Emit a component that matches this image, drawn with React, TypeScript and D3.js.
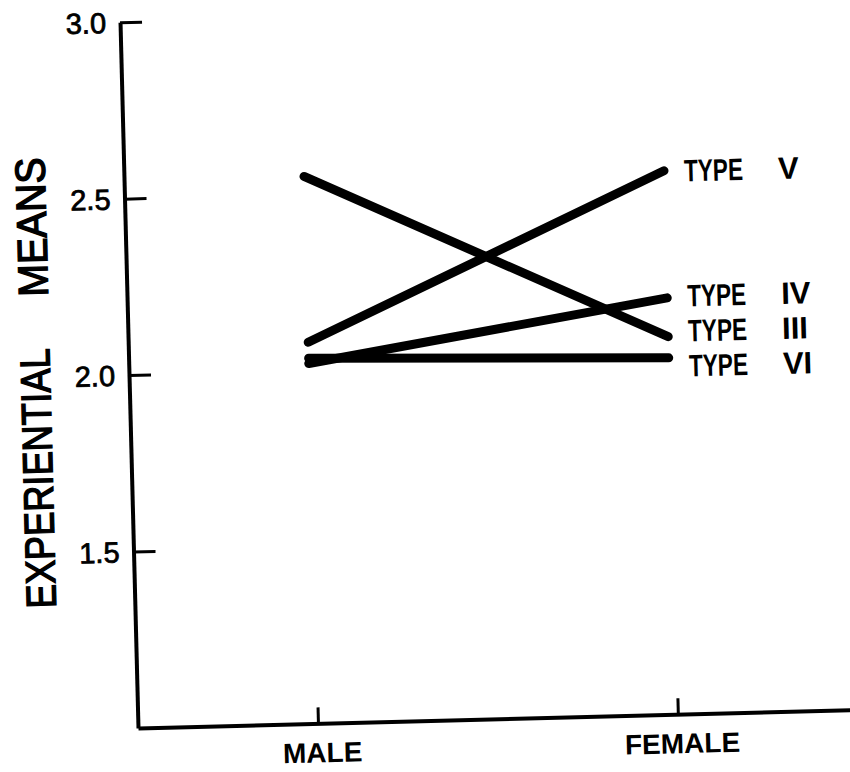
import * as d3 from "d3";
import { useEffect, useRef } from "react";

// groups on the x axis
const groups = ["MALE", "FEMALE"];
// series (type numerals) and their means per group
const typeNames = ["V", "IV", "III", "VI"];
const maleMeans = [2.08, 2.02, 2.55, 2.035];
const femaleMeans = [2.54, 2.18, 2.07, 2.01];
// y axis ticks
const yTicks = [1.5, 2.0, 2.5, 3.0];
const yTitleWords = ["EXPERIENTIAL", "MEANS"];

const W = 850;
const H = 772;
const FONT = "'Liberation Sans', Arial, sans-serif";

// push labels apart so they don't overlap, keeping clusters centred on their targets
function dodge(targets: number[], gap: number) {
  const order = targets.map((t, i) => i).sort((a, b) => targets[a] - targets[b]);
  let clusters: { idx: number[]; top: number }[] = [];
  order.forEach(i => {
    clusters.push({ idx: [i], top: targets[i] });
    // merge while overlapping
    while (clusters.length > 1) {
      const b = clusters[clusters.length - 1];
      const a = clusters[clusters.length - 2];
      if (a.top + a.idx.length * gap <= b.top) break;
      const idx = a.idx.concat(b.idx);
      const mean = d3.mean(idx, j => targets[j])!;
      clusters.splice(clusters.length - 2, 2, { idx, top: mean - ((idx.length - 1) * gap) / 2 });
    }
  });
  const out = new Array(targets.length);
  clusters.forEach(c => c.idx.forEach((j, k) => (out[j] = c.top + k * gap)));
  return out as number[];
}

export default function App() {
  const ref = useRef<SVGSVGElement>(null);

  useEffect(() => {
    document.body.style.margin = "0";
    const svg = d3.select(ref.current);
    svg.selectAll("*").remove();

    // the scanned figure is tilted a little; draw in a frame anchored at the axes corner
    const g = svg.append("g").attr("transform", "translate(138,728) rotate(-1.46)");

    const x = d3.scalePoint<string>().domain(groups).range([0, 720]).padding(0.5);
    const y = d3.scaleLinear().domain([1, 3]).range([0, -706]);

    // y axis (ticks point inward)
    const yAxis = g.append("g").call(
      d3.axisRight(y).tickValues(yTicks).tickSize(22).tickSizeOuter(0).tickFormat(() => "")
    );
    yAxis.select(".domain").attr("stroke", "#000").attr("stroke-width", 4);
    yAxis.selectAll(".tick line").attr("stroke", "#000").attr("stroke-width", 3);

    g.append("g")
      .selectAll("text")
      .data(yTicks)
      .enter()
      .append("text")
      .attr("x", -14)
      .attr("y", d => y(d))
      .attr("dy", "0.36em")
      .attr("text-anchor", "end")
      .style("font-family", FONT)
      .style("font-size", "29px")
      .style("stroke", "#000")
      .style("stroke-width", 0.8)
      .text(d => d3.format(".1f")(d));

    // x axis (ticks point up)
    const xAxis = g.append("g").call(
      d3.axisTop(x).tickSize(16).tickSizeOuter(0).tickFormat(() => "")
    );
    xAxis.select(".domain").attr("stroke", "#000").attr("stroke-width", 4);
    xAxis.selectAll(".tick line").attr("stroke", "#000").attr("stroke-width", 3);

    g.append("g")
      .selectAll("text")
      .data(groups)
      .enter()
      .append("text")
      .attr("x", d => x(d)! + 4)
      .attr("y", 39)
      .attr("text-anchor", "middle")
      .style("font-family", FONT)
      .style("font-size", "28px")
      .style("font-weight", "bold")
      .text(d => d);

    // y axis title, two words spaced apart
    const titleStart = [-122, -434];
    const titleLen = [260, 139];
    yTitleWords.forEach((w, i) => {
      g.append("text")
        .attr("transform", `translate(-79,${titleStart[i]}) rotate(-90)`)
        .attr("textLength", titleLen[i])
        .attr("lengthAdjust", "spacingAndGlyphs")
        .style("font-family", FONT)
        .style("font-size", "42px")
        .style("stroke", "#000")
        .style("stroke-width", 1.4)
        .text(w);
    });

    // series lines
    const series = typeNames.map((name, i) => ({
      name,
      values: [maleMeans[i], femaleMeans[i]],
    }));

    const line = d3
      .line<number>()
      .x((d, i) => x(groups[i])!)
      .y(d => y(d));

    g.append("g")
      .selectAll("path")
      .data(series)
      .enter()
      .append("path")
      .attr("d", d => line(d.values))
      .attr("fill", "none")
      .attr("stroke", "#000")
      .attr("stroke-width", 9)
      .attr("stroke-linecap", "round");

    // end labels
    const labelY = dodge(series.map(s => y(s.values[1])), 35);
    const lab = g
      .append("g")
      .selectAll("g")
      .data(series)
      .enter()
      .append("g")
      .attr("transform", (d, i) => `translate(${x("FEMALE")! + 20},${labelY[i]})`);

    lab
      .append("text")
      .attr("dy", "0.36em")
      .attr("textLength", 59)
      .attr("lengthAdjust", "spacingAndGlyphs")
      .style("font-family", FONT)
      .style("font-size", "31px")
      .style("font-weight", "bold")
      .text("TYPE");

    lab
      .append("text")
      .attr("x", 94)
      .attr("dy", "0.36em")
      .style("font-family", FONT)
      .style("font-size", "31px")
      .style("font-weight", "bold")
      .text(d => d.name);
  }, []);

  return <svg ref={ref} width={W} height={H} style={{ display: "block", background: "#fff" }} />;
}
